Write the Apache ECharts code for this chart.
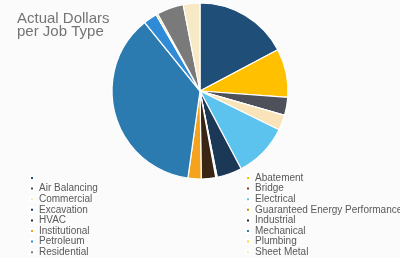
<!DOCTYPE html>
<html><head><meta charset="utf-8">
<script src="https://cdn.jsdelivr.net/npm/echarts@6/dist/echarts.min.js"></script>
<style>html,body{margin:0;padding:0;background:#fbfbfb}#c{width:400px;height:258px}</style>
</head><body><div id="c"></div>
<script>
const categories = [' ', 'Abatement', 'Air Balancing', 'Bridge', 'Commercial', 'Electrical', 'Excavation',
  'Guaranteed Energy Performance', 'HVAC', 'Industrial', 'Institutional', 'Mechanical', 'Petroleum',
  'Plumbing', 'Residential', 'Sheet Metal'];
const values = [62, 32, 12, 0, 10, 36, 16.5, 0.5, 0.5, 9.5, 8.7, 133, 9, 1.2, 17.7, 11];
const colors = ['#1f4e79', '#ffc000', '#4e5159', '#843c0c', '#f9e3b8', '#5cc3ef', '#1c3857',
  '#bf9000', '#222a35', '#3a2414', '#f5a21e', '#2b7bb0', '#2f8ad8', '#ffd23f', '#7a7a7a', '#f7e8c6'];
const titleText = 'Actual Dollars\nper Job Type';

const leftNames = categories.filter((_, i) => i % 2 === 0);
const rightNames = categories.filter((_, i) => i % 2 === 1);

const chart = echarts.init(document.getElementById('c'), null, {renderer: 'canvas'});
const legendBase = {
  orient: 'vertical', top: 173, height: 100, padding: 0, itemWidth: 4, itemHeight: 4, itemGap: 0.6, icon: 'rect',
  selectedMode: false,
  textStyle: {fontFamily: 'Liberation Sans', fontSize: 10, color: '#595959', lineHeight: 10}
};
chart.setOption({
  backgroundColor: '#fbfbfb',
  animation: false,
  color: colors,
  title: {
    text: titleText, left: 12, top: 7,
    textStyle: {fontFamily: 'Liberation Sans', fontSize: 15, fontWeight: 'normal', color: '#747474', lineHeight: 13}
  },
  legend: [
    Object.assign({}, legendBase, {left: 29, data: leftNames}),
    Object.assign({}, legendBase, {left: 245, data: rightNames})
  ],
  series: [{
    type: 'pie',
    center: [200, 91],
    radius: 88,
    startAngle: 90,
    clockwise: true,
    label: {show: false},
    labelLine: {show: false},
    emphasis: {disabled: true},
    itemStyle: {borderColor: '#ffffff', borderWidth: 1.2},
    data: categories.map((n, i) => ({name: n, value: values[i]}))
  }]
});
</script></body></html>
